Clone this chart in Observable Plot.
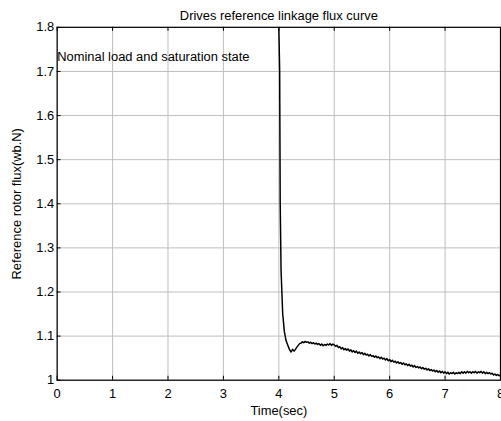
<!DOCTYPE html>
<html>
<head>
<meta charset="utf-8">
<script src="https://cdn.jsdelivr.net/npm/d3@7"></script>
<script src="https://cdn.jsdelivr.net/npm/@observablehq/plot@0.6"></script>
<style>
  html, body { margin: 0; padding: 0; background: #fff; }
  #chart { width: 501px; height: 421px; overflow: hidden; }
  #chart svg { font-family: "Liberation Sans", Arial, sans-serif; }
</style>
</head>
<body>
<div id="chart"></div>
<script>
const title = "Drives reference linkage flux curve";
const xLabel = "Time(sec)";
const yLabel = "Reference rotor flux(wb.N)";
const annotation = "Nominal load and saturation state";
const xTicks = [0, 1, 2, 3, 4, 5, 6, 7, 8];
const yTicks = [1, 1.1, 1.2, 1.3, 1.4, 1.5, 1.6, 1.7, 1.8];

const times = [4.000, 4.015, 4.025, 4.040, 4.070, 4.100, 4.130, 4.160, 4.190, 4.220, 4.250, 4.275,
  4.300, 4.325, 4.350, 4.375, 4.400, 4.425, 4.450, 4.475, 4.500, 4.525, 4.550, 4.575, 4.600, 4.625, 4.650, 4.675,
  4.700, 4.725, 4.750, 4.775, 4.800, 4.825, 4.850, 4.875, 4.900, 4.925, 4.950, 4.975,
  5.000, 5.025, 5.050, 5.075, 5.100, 5.125, 5.150, 5.175, 5.200, 5.225, 5.250, 5.275, 5.300, 5.325, 5.350, 5.375,
  5.400, 5.425, 5.450, 5.475, 5.500, 5.525, 5.550, 5.575, 5.600, 5.625, 5.650, 5.675, 5.700, 5.725, 5.750, 5.775,
  5.800, 5.825, 5.850, 5.875, 5.900, 5.925, 5.950, 5.975,
  6.000, 6.025, 6.050, 6.075, 6.100, 6.125, 6.150, 6.175, 6.200, 6.225, 6.250, 6.275, 6.300, 6.325, 6.350, 6.375,
  6.400, 6.425, 6.450, 6.475, 6.500, 6.525, 6.550, 6.575, 6.600, 6.625, 6.650, 6.675, 6.700, 6.725, 6.750, 6.775,
  6.800, 6.825, 6.850, 6.875, 6.900, 6.925, 6.950, 6.975,
  7.000, 7.025, 7.050, 7.075, 7.100, 7.125, 7.150, 7.175, 7.200, 7.225, 7.250, 7.275, 7.300, 7.325, 7.350, 7.375,
  7.400, 7.425, 7.450, 7.475, 7.500, 7.525, 7.550, 7.575, 7.600, 7.625, 7.650, 7.675, 7.700, 7.725, 7.750, 7.775,
  7.800, 7.825, 7.850, 7.875, 7.900, 7.925, 7.950, 7.975, 8.000];
const flux = [1.800, 1.700, 1.400, 1.250, 1.150, 1.110, 1.090, 1.080, 1.070, 1.064, 1.070, 1.066,
  1.070, 1.075, 1.079, 1.083, 1.084, 1.087, 1.085, 1.088, 1.086, 1.087, 1.084, 1.086, 1.083, 1.085, 1.082, 1.084,
  1.081, 1.083, 1.079, 1.082, 1.078, 1.081, 1.079, 1.082, 1.080, 1.083, 1.079, 1.082,
  1.080, 1.077, 1.079, 1.074, 1.076, 1.071, 1.074, 1.069, 1.072, 1.068, 1.071, 1.066, 1.069, 1.064, 1.067, 1.063,
  1.066, 1.061, 1.064, 1.060, 1.063, 1.058, 1.061, 1.057, 1.059, 1.055, 1.058, 1.054, 1.056, 1.052, 1.055, 1.051,
  1.053, 1.049, 1.052, 1.048, 1.050, 1.046, 1.049, 1.044,
  1.047, 1.042, 1.045, 1.041, 1.043, 1.039, 1.042, 1.038, 1.040, 1.036, 1.039, 1.035, 1.037, 1.033, 1.036, 1.032,
  1.034, 1.030, 1.033, 1.029, 1.031, 1.028, 1.030, 1.026, 1.029, 1.025, 1.027, 1.023, 1.026, 1.022, 1.024, 1.021,
  1.023, 1.019, 1.022, 1.018, 1.021, 1.017, 1.020, 1.016,
  1.019, 1.015, 1.018, 1.014, 1.017, 1.015, 1.018, 1.014, 1.017, 1.015, 1.018, 1.015, 1.019, 1.016, 1.019, 1.016,
  1.020, 1.017, 1.019, 1.016, 1.019, 1.017, 1.020, 1.016, 1.019, 1.017, 1.020, 1.016, 1.019, 1.015, 1.018, 1.015,
  1.017, 1.014, 1.016, 1.012, 1.014, 1.011, 1.013, 1.010, 1.012];

const data = times.map((t, i) => ({t, f: flux[i]}));

const chart = Plot.plot({
  width: 504,
  height: 421,
  marginLeft: 57,
  marginRight: 1,
  marginTop: 27,
  marginBottom: 39,
  style: {fontFamily: "Liberation Sans, Arial, sans-serif", fontSize: "13px", color: "#000", background: "#fff"},
  x: {domain: [0, 8], ticks: xTicks},
  y: {domain: [1, 1.8], ticks: yTicks},
  marks: [
    Plot.gridX(xTicks, {stroke: "#bdbdbd", strokeOpacity: 1, strokeWidth: 1}),
    Plot.gridY(yTicks, {stroke: "#bdbdbd", strokeOpacity: 1, strokeWidth: 1}),
    Plot.ruleX(xTicks, {y1: 1, y2: 1.009, stroke: "#000"}),
    Plot.ruleX(xTicks, {y1: 1.8, y2: 1.791, stroke: "#000"}),
    Plot.ruleY(yTicks, {x1: 0, x2: 0.07, stroke: "#000"}),
    Plot.axisX(xTicks, {tickSize: 0, tickPadding: 9, fontSize: 13, label: xLabel, labelAnchor: "center", labelOffset: 35, labelArrow: "none"}),
    Plot.axisY(yTicks, {tickSize: 0, tickPadding: 3, fontSize: 13, tickFormat: d => d3.format("")(+d.toFixed(1)), label: yLabel, labelAnchor: "center", labelOffset: 46, labelArrow: "none"}),
    Plot.frame({stroke: "#000", strokeWidth: 1.2}),
    Plot.line(data, {x: "t", y: "f", stroke: "#000", strokeWidth: 1.5, clip: true}),
    Plot.text([annotation], {x: 0, y: 1.733, text: d => d, textAnchor: "start", fontSize: 13}),
    Plot.text([title], {frameAnchor: "top", dy: -17, text: d => d, fontSize: 13})
  ]
});
document.getElementById("chart").append(chart);
</script>
</body>
</html>
